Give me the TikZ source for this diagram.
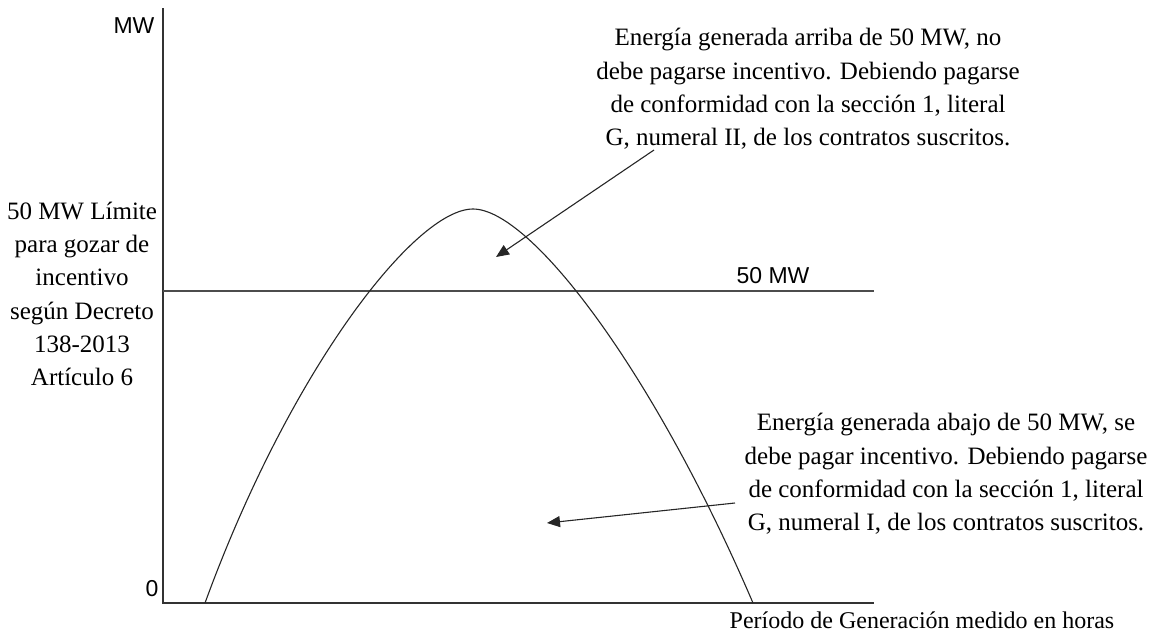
\documentclass[tikz,border=0pt]{standalone}
\usepackage{fontspec}
\setmainfont{Liberation Serif}
\newfontfamily\axisfont{Liberation Sans}
\usetikzlibrary{arrows.meta}
\begin{document}
\begin{tikzpicture}[x=1pt,y=-1pt,
  txt/.style={font=\fontsize{25}{33.3}\selectfont, align=center, inner sep=0pt},
  axlbl/.style={font=\axisfont\fontsize{23}{27}\selectfont, inner sep=0pt},
  axis/.style={line width=1.5pt, draw=black!80},
  limit/.style={line width=1.8pt, draw=black!70},
  curve/.style={line width=1.1pt, draw=black!85},
  pointer/.style={line width=1.1pt, draw=black!85, -{Triangle[length=13pt,width=11pt]}}]
\useasboundingbox (0,0) rectangle (1151,632);
\coordinate (top) at (163,8);
\coordinate (origin) at (163,603);
\coordinate (xend) at (874,603);
\coordinate (lstart) at (163,291);
\coordinate (lend) at (874,291);
\coordinate (cstart) at (205,603);
\coordinate (peak) at (473,209);
\coordinate (cend) at (753,603);
\draw[axis] (top) -- (origin) -- (xend);
\draw[limit] (lstart) -- (lend);
\draw[curve] (cstart) .. controls (290,370) and (415,209) .. (peak)
                      .. controls (531,209) and (654,372) .. (cend);
\node[axlbl] (mw) at (134,26) {MW};
\node[axlbl] (zero) at (152,589) {0};
\node[axlbl] (fifty) at (773,276) {50 MW};
\node[txt] (limite) at (82,294) {50 MW Límite\\para gozar de\\incentivo\\según Decreto\\138-2013\\Artículo 6};
\node[txt] (arriba) at (808,89) {Energía generada arriba de 50 MW, no\\debe pagarse incentivo. Debiendo pagarse\\de conformidad con la sección 1, literal\\G, numeral II, de los contratos suscritos.};
\node[txt] (abajo) at (946,474) {Energía generada abajo de 50 MW, se\\debe pagar incentivo. Debiendo pagarse\\de conformidad con la sección 1, literal\\G, numeral I, de los contratos suscritos.};
\node[txt, font=\fontsize{24}{30}\selectfont] (periodo) at (922,620) {Período de Generación medido en horas};
\coordinate (a1s) at (654,150);
\coordinate (a1e) at (496,257);
\coordinate (a2s) at (735,503);
\coordinate (a2e) at (547,523);
\draw[pointer] (a1s) -- (a1e);
\draw[pointer] (a2s) -- (a2e);
\end{tikzpicture}
\end{document}
